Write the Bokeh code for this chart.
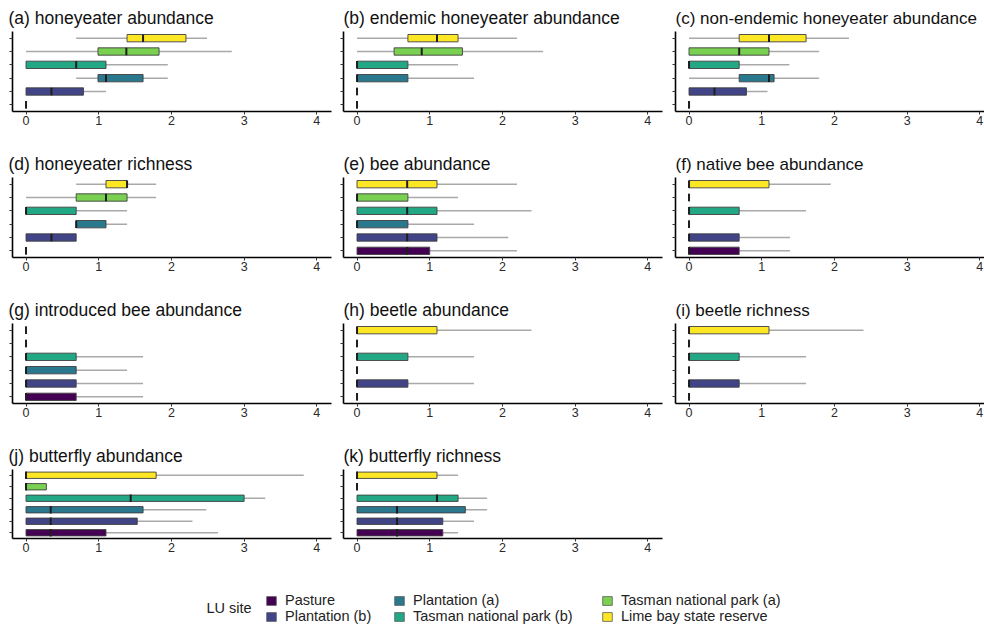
import numpy as np
from bokeh.plotting import figure
from bokeh.layouts import column, row
from bokeh.models import (Range1d, FixedTicker, Legend, LegendItem, Label,
                          ColumnDataSource, CustomJSTickFormatter)
from bokeh.embed import file_html
from bokeh.resources import INLINE

FONT = "Liberation Sans"

# categories, bottom to top
SITES = ["Pasture", "Plantation (b)", "Plantation (a)",
         "Tasman national park (b)", "Tasman national park (a)",
         "Lime bay state reserve"]
SITE_COLORS = ["#440154", "#414487", "#2A788E", "#22A884", "#7AD151", "#FDE725"]
X_TICKS = [0, 1, 2, 3, 4]

# Box statistics per panel (order follows SITES): whisker low, Q1, median, Q3, whisker high
a_lo = [0, 0, 0.69, 0, 0, 0.69]
a_q1 = [0, 0, 0.99, 0, 0.99, 1.39]
a_med = [0, 0.35, 1.10, 0.69, 1.38, 1.61]
a_q3 = [0, 0.79, 1.61, 1.10, 1.83, 2.20]
a_hi = [0, 1.10, 1.95, 1.95, 2.83, 2.49]

b_lo = [0, 0, 0, 0, 0, 0]
b_q1 = [0, 0, 0, 0, 0.51, 0.70]
b_med = [0, 0, 0, 0, 0.89, 1.10]
b_q3 = [0, 0, 0.70, 0.70, 1.45, 1.39]
b_hi = [0, 0, 1.61, 1.39, 2.56, 2.20]

c_lo = [0, 0, 0, 0, 0, 0]
c_q1 = [0, 0, 0.69, 0, 0, 0.69]
c_med = [0, 0.35, 1.10, 0, 0.69, 1.10]
c_q3 = [0, 0.79, 1.17, 0.69, 1.10, 1.61]
c_hi = [0, 1.08, 1.79, 1.38, 1.79, 2.20]

d_lo = [0, 0, 0.69, 0, 0, 0.69]
d_q1 = [0, 0, 0.69, 0, 0.69, 1.10]
d_med = [0, 0.35, 0.69, 0, 1.10, 1.39]
d_q3 = [0, 0.69, 1.10, 0.69, 1.39, 1.39]
d_hi = [0, 0.69, 1.39, 1.39, 1.79, 1.79]

e_lo = [0, 0, 0, 0, 0, 0]
e_q1 = [0, 0, 0, 0, 0, 0]
e_med = [0.69, 0.69, 0, 0.69, 0, 0.69]
e_q3 = [1.00, 1.10, 0.70, 1.10, 0.70, 1.10]
e_hi = [2.20, 2.08, 1.61, 2.40, 1.39, 2.20]

f_lo = [0, 0, 0, 0, 0, 0]
f_q1 = [0, 0, 0, 0, 0, 0]
f_med = [0, 0, 0, 0, 0, 0]
f_q3 = [0.69, 0.69, 0, 0.69, 0, 1.10]
f_hi = [1.39, 1.39, 0, 1.61, 0, 1.95]

g_lo = [0, 0, 0, 0, 0, 0]
g_q1 = [0, 0, 0, 0, 0, 0]
g_med = [0, 0, 0, 0, 0, 0]
g_q3 = [0.69, 0.69, 0.69, 0.69, 0, 0]
g_hi = [1.61, 1.61, 1.39, 1.61, 0, 0]

h_lo = [0, 0, 0, 0, 0, 0]
h_q1 = [0, 0, 0, 0, 0, 0]
h_med = [0, 0, 0, 0, 0, 0]
h_q3 = [0, 0.70, 0, 0.70, 0, 1.10]
h_hi = [0, 1.61, 0, 1.61, 0, 2.40]

i_lo = [0, 0, 0, 0, 0, 0]
i_q1 = [0, 0, 0, 0, 0, 0]
i_med = [0, 0, 0, 0, 0, 0]
i_q3 = [0, 0.69, 0, 0.69, 0, 1.10]
i_hi = [0, 1.61, 0, 1.61, 0, 2.40]

j_lo = [0, 0, 0, 0, 0, 0]
j_q1 = [0, 0, 0, 0, 0, 0]
j_med = [0.34, 0.34, 0.34, 1.44, 0, 0]
j_q3 = [1.10, 1.53, 1.61, 3.00, 0.28, 1.79]
j_hi = [2.64, 2.29, 2.48, 3.29, 0.28, 3.82]

k_lo = [0, 0, 0, 0, 0, 0]
k_q1 = [0, 0, 0, 0, 0, 0]
k_med = [0.55, 0.55, 0.55, 1.10, 0, 0]
k_q3 = [1.18, 1.18, 1.49, 1.39, 0, 1.10]
k_hi = [1.39, 1.61, 1.79, 1.79, 0, 1.39]

PANELS = [
    ("(a) honeyeater abundance", a_lo, a_q1, a_med, a_q3, a_hi),
    ("(b) endemic honeyeater abundance", b_lo, b_q1, b_med, b_q3, b_hi),
    ("(c) non-endemic honeyeater abundance", c_lo, c_q1, c_med, c_q3, c_hi),
    ("(d) honeyeater richness", d_lo, d_q1, d_med, d_q3, d_hi),
    ("(e) bee abundance", e_lo, e_q1, e_med, e_q3, e_hi),
    ("(f) native bee abundance", f_lo, f_q1, f_med, f_q3, f_hi),
    ("(g) introduced bee abundance", g_lo, g_q1, g_med, g_q3, g_hi),
    ("(h) beetle abundance", h_lo, h_q1, h_med, h_q3, h_hi),
    ("(i) beetle richness", i_lo, i_q1, i_med, i_q3, i_hi),
    ("(j) butterfly abundance", j_lo, j_q1, j_med, j_q3, j_hi),
    ("(k) butterfly richness", k_lo, k_q1, k_med, k_q3, k_hi),
]

# layout geometry
COL_W = [339, 332, 313]
COL_BL = [12, 4, 4]
COL_BR = [8, 9, 0]
X_START = -0.186
PX_PER_UNIT = 72.7
BOX_H = 0.55


def make_panel(title, lo, q1, med, q3, hi, ci, ri):
    last_row = ri == 3
    height = 120 if last_row else 146
    bb = 20 if last_row else 35
    frame_w = COL_W[ci] - COL_BL[ci] - COL_BR[ci]
    x_end = X_START + frame_w / PX_PER_UNIT
    p = figure(width=COL_W[ci], height=height,
               x_range=Range1d(X_START, x_end), y_range=Range1d(0.5, 6.5),
               output_backend="svg", toolbar_location=None,
               min_border_left=COL_BL[ci], min_border_right=COL_BR[ci],
               min_border_top=31, min_border_bottom=bb, title=title)
    p.title.text_font = FONT
    p.title.text_font_size = "17px" if ci == 2 else "17.5px"
    p.title.text_font_style = "normal"
    p.title.text_color = "#111111"
    p.title.standoff = 8
    p.title.offset = -4 if ci == 0 else 0
    p.grid.visible = False
    p.outline_line_color = None
    p.background_fill_color = "white"

    ys = list(range(1, len(SITES) + 1))
    src = ColumnDataSource(dict(y=ys, lo=lo, q1=q1, med=med, q3=q3, hi=hi,
                                color=SITE_COLORS))
    p.segment(x0="lo", y0="y", x1="hi", y1="y", source=src,
              line_color="#a9a9a9", line_width=1.5)
    p.hbar(y="y", left="q1", right="q3", height=BOX_H, source=src,
           fill_color="color", line_color="#404040", line_width=0.9)
    p.scatter(x="med", y="y", marker="dash", size=7.5, angle=np.pi / 2,
              source=src, line_color="#1e1e1e", line_width=2)

    for ax in (p.xaxis[0], p.yaxis[0]):
        ax.axis_line_color = "black"
        ax.axis_line_width = 1.6
        ax.major_tick_line_color = "#333333"
        ax.major_tick_out = 3
        ax.major_tick_in = 0
        ax.minor_tick_out = 0
        ax.minor_tick_in = 0
    p.xaxis.ticker = FixedTicker(ticks=X_TICKS)
    p.xaxis.major_label_text_font = FONT
    p.xaxis.major_label_text_font_size = "12.5px"
    p.xaxis.major_label_text_color = "#2a2a2a"
    p.xaxis.major_label_standoff = 1
    p.yaxis.ticker = FixedTicker(ticks=ys)
    p.yaxis.formatter = CustomJSTickFormatter(code="return ''")
    p.yaxis.major_label_standoff = 0
    return p


figs = []
for idx, (t, lo, q1, med, q3, hi) in enumerate(PANELS):
    figs.append(make_panel(t, lo, q1, med, q3, hi, idx % 3, idx // 3))

rows = [row(*figs[i:i + 3]) for i in range(0, len(figs), 3)]

# legend strip
TOTAL_W = sum(COL_W)
LEG_H = 626 - 146 * 3 - 120
lf = figure(width=TOTAL_W, height=LEG_H, x_range=Range1d(0, TOTAL_W),
            y_range=Range1d(0, LEG_H), x_axis_type=None, y_axis_type=None,
            min_border=0, output_backend="svg", toolbar_location=None)
lf.outline_line_color = None
lf.grid.visible = False

# hidden carrier renderer (kept below the visible strip) for the legend keys
leg_src = ColumnDataSource(dict(y=[-10.0 * LEG_H] * len(SITES),
                                color=SITE_COLORS))
key_r = lf.hbar(y="y", left=0, right=1, height=1, source=leg_src,
                fill_color="color", line_color="#5a5a5a", line_width=0.8)

LEG_X = [265, 393, 601]
for col_i in range(3):
    its = [LegendItem(label=SITES[j], renderers=[key_r], index=j)
           for j in (2 * col_i, 2 * col_i + 1)]
    lg = Legend(items=its, orientation="vertical",
                location=(LEG_X[col_i], 2), padding=0, margin=0, spacing=-2,
                border_line_alpha=0, background_fill_alpha=0,
                glyph_width=12, glyph_height=11, label_standoff=8,
                label_text_font=FONT, label_text_font_size="14.5px",
                label_text_color="#222222", label_height=14)
    lf.add_layout(lg, "center")

lf.add_layout(Label(x=206, y=19, text="LU site", text_font=FONT,
                    text_font_size="14.5px", text_color="#222222",
                    text_baseline="middle"))

layout = column(*rows, lf)
open("out.html", "w").write(file_html(layout, INLINE))
